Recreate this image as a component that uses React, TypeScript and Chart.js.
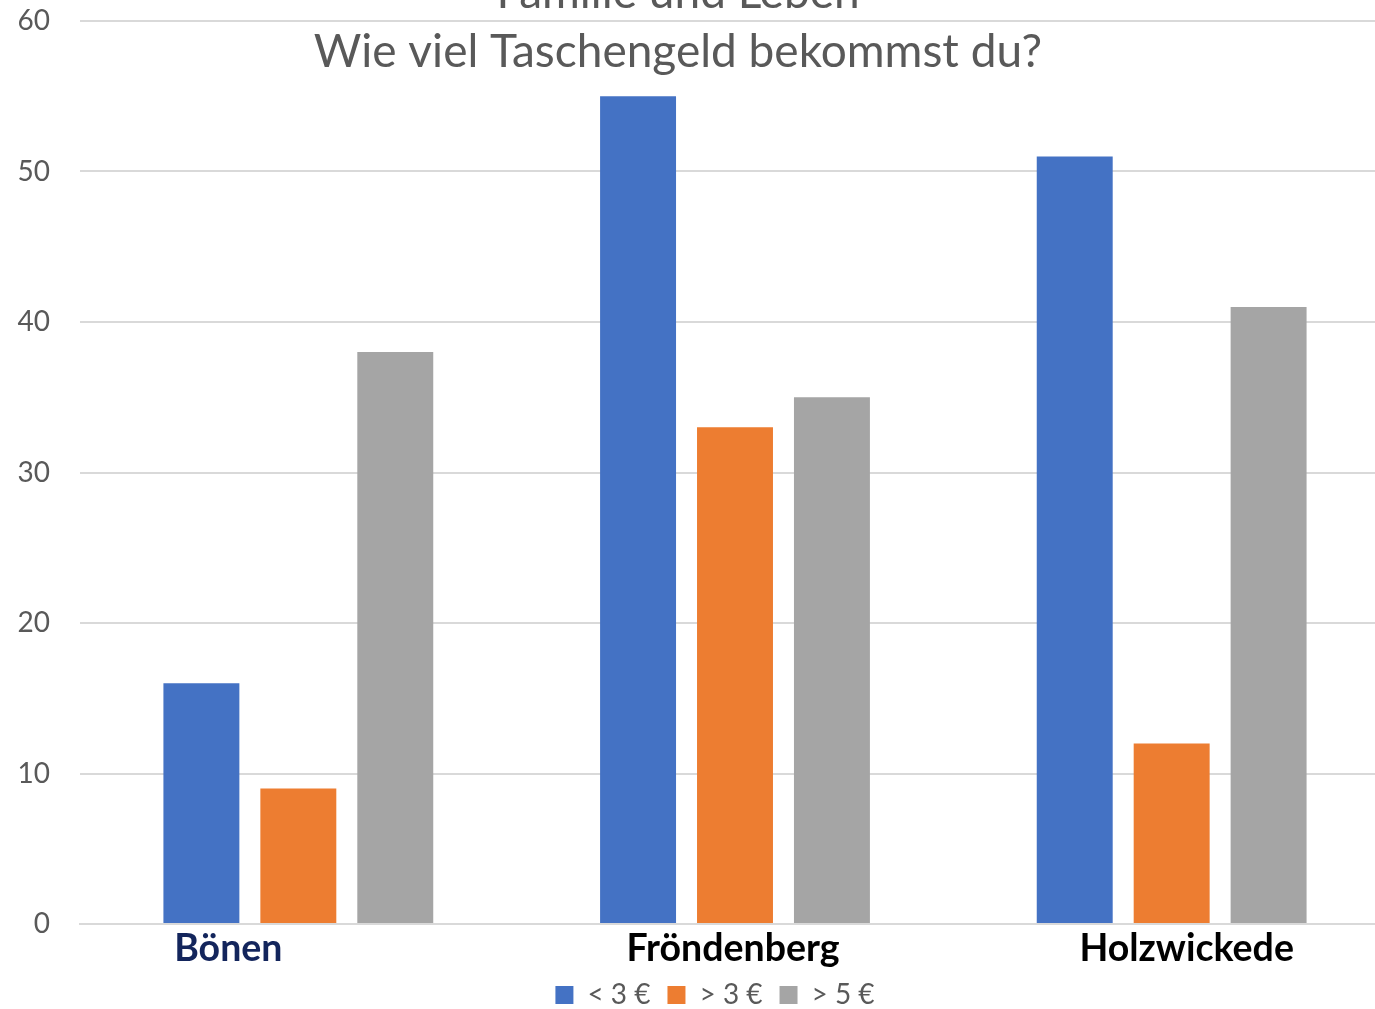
import React, { useEffect, useRef } from "react";
import { Chart, registerables } from "chart.js";

Chart.register(...registerables);

const categories = ["Bönen", "Fröndenberg", "Holzwickede"];
const seriesLabels = ["< 3 €", "> 3 €", "> 5 €"];
const lessThan3 = [16, 55, 51];
const moreThan3 = [9, 33, 12];
const moreThan5 = [38, 35, 41];
const titleLines = ["Familie und Leben", "Wie viel Taschengeld bekommst du?"];
const yMin = 0;
const yMax = 60;
const yStep = 10;

const seriesColors = ["#4472C4", "#ED7D31", "#A5A5A5"];
const categoryColors = ["#13255C", "#000000", "#000000"];
// horizontal nudge of each category label relative to its category centre (style)
const categoryLabelNudge = [-70, -2, 15];

const overlayTitle = {
  id: "overlayTitle",
  afterDraw(chart: any) {
    const ctx = chart.ctx as CanvasRenderingContext2D;
    ctx.save();
    ctx.fillStyle = "#595959";
    ctx.textAlign = "center";
    ctx.textBaseline = "alphabetic";
    ctx.font = "46px Lato";
    ctx.fillText(titleLines[0], 678, 8);
    ctx.fillText(titleLines[1], 678, 67);
    ctx.restore();
  },
};

const categoryLabels = {
  id: "categoryLabels",
  afterDraw(chart: any) {
    const ctx = chart.ctx as CanvasRenderingContext2D;
    const x = chart.scales.x;
    ctx.save();
    ctx.textAlign = "center";
    ctx.textBaseline = "alphabetic";
    ctx.font = "bold 37.5px Lato";
    categories.forEach((c, i) => {
      ctx.fillStyle = categoryColors[i];
      ctx.fillText(c, x.getPixelForValue(i) + categoryLabelNudge[i], chart.chartArea.bottom + 37);
    });
    ctx.restore();
  },
};

const shiftLegend = {
  id: "shiftLegend",
  afterLayout(chart: any) {
    if (chart.legend) {
      chart.legend.left += 20;
      chart.legend.right += 20;
      chart.legend.top -= 1;
      chart.legend.bottom -= 1;
    }
  },
};

export default function App() {
  const ref = useRef<HTMLCanvasElement | null>(null);

  useEffect(() => {
    if (!ref.current) return;
    const data = [lessThan3, moreThan3, moreThan5];
    const chart = new Chart(ref.current, {
      type: "bar",
      data: {
        labels: categories,
        datasets: seriesLabels.map((label, i) => ({
          label,
          data: data[i],
          backgroundColor: seriesColors[i],
          borderWidth: 0,
          categoryPercentage: 0.666,
          barPercentage: 0.7835,
        })),
      },
      options: {
        responsive: false,
        animation: false,
        layout: { padding: { top: 21, left: 0, right: 0, bottom: -11 } },
        plugins: {
          title: { display: false },
          tooltip: { enabled: false },
          legend: {
            position: "bottom",
            labels: {
              boxWidth: 18,
              boxHeight: 18,
              padding: 17,
              color: "#595959",
              font: { family: "Lato", size: 28 },
            },
          },
        },
        scales: {
          x: {
            grid: { display: false },
            border: { display: true, color: "#D9D9D9", width: 2 },
            ticks: {
              padding: -6,
              color: "rgba(0,0,0,0)",
              font: { family: "Lato", size: 37.5, weight: "bold" },
            },
          },
          y: {
            min: yMin,
            max: yMax,
            afterFit: (s: any) => {
              s.width = 80;
              s.paddingTop = 0;
              s.paddingBottom = 0;
            },
            grid: { color: "#D9D9D9", lineWidth: 2, drawTicks: false },
            border: { display: false },
            ticks: {
              stepSize: yStep,
              padding: 30,
              color: "#595959",
              font: { family: "Lato", size: 28 },
            },
          },
        },
      },
      plugins: [overlayTitle, categoryLabels, shiftLegend],
    });
    return () => chart.destroy();
  }, []);

  return (
    <div
      style={{
        position: "fixed",
        left: 0,
        top: 0,
        width: 1375,
        height: 1009,
        overflow: "hidden",
        background: "#fff",
      }}
    >
      <canvas ref={ref} width={1390} height={1009} style={{ display: "block" }} />
    </div>
  );
}
